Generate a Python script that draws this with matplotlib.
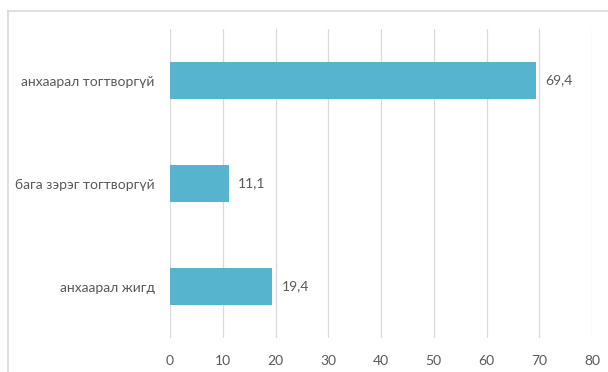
import matplotlib.pyplot as plt
from matplotlib.lines import Line2D

categories = ['анхаарал тогтворгүй', 'бага зэрэг тогтворгүй', 'анхаарал жигд']
values = [69.4, 11.1, 19.4]
xticks = [0, 10, 20, 30, 40, 50, 60, 70, 80]

plt.rcParams['font.family'] = ['Lato', 'DejaVu Sans']
text_col = '#595959'
grid_col = '#D9D9D9'

fig = plt.figure(figsize=(6.08, 3.72), dpi=100)
ax = fig.add_axes([170/608, 1-338/372, 422/608, 309/372])

pos = list(range(len(categories)))[::-1]
ax.barh(pos, values, height=0.35, color='#56B4CF', zorder=3)
for p, v in zip(pos, values):
    ax.text(v + 1.8, p, f'{v:.1f}'.replace('.', ','), va='center', ha='left',
            fontsize=10, color=text_col)

ax.set_xlim(0, 80)
ax.set_ylim(-0.5, len(categories) - 0.5)
ax.set_xticks(xticks)
ax.set_yticks(pos)
ax.set_yticklabels(categories)
ax.tick_params(length=0, labelsize=10, colors=text_col)
ax.tick_params(axis='y', pad=11)
ax.tick_params(axis='x', pad=12)
ax.grid(axis='x', color=grid_col, linewidth=0.9, zorder=0)
for s in ax.spines.values():
    s.set_visible(False)

# chart frame (only top and left edges visible)
fig.add_artist(Line2D([8/608, 1.0], [1-11/372, 1-11/372], color=grid_col, lw=1.2))
fig.add_artist(Line2D([8/608, 8/608], [0, 1-11/372], color=grid_col, lw=1.2))

fig.savefig('out.png', dpi=100)
